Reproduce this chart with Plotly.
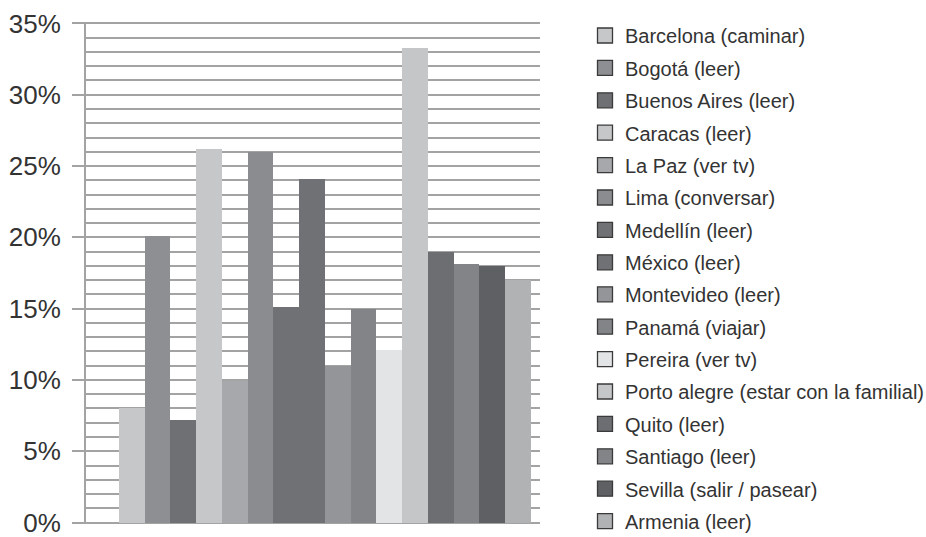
import plotly.graph_objects as go

cities = [
    "Barcelona (caminar)", "Bogotá (leer)", "Buenos Aires (leer)", "Caracas (leer)",
    "La Paz (ver tv)", "Lima (conversar)", "Medellín (leer)", "México (leer)",
    "Montevideo (leer)", "Panamá (viajar)", "Pereira (ver tv)",
    "Porto alegre (estar con la familial)", "Quito (leer)", "Santiago (leer)",
    "Sevilla (salir / pasear)", "Armenia (leer)",
]
values = [8.0, 20.1, 7.2, 26.2, 9.9, 26.0, 15.1, 24.1, 11.0, 15.0, 12.1, 33.3, 19.0, 18.1, 18.0, 17.0]
colors = [
    "#c6c7c9", "#8e8f92", "#6f7073", "#c6c7c9", "#a7a8ab", "#8b8c8f", "#707175", "#707175",
    "#949598", "#838487", "#e3e4e5", "#c5c6c8", "#6d6e72", "#838488", "#5f6063", "#b1b2b4",
]
tick_vals = [0, 5, 10, 15, 20, 25, 30, 35]
tick_text = ["0%", "5%", "10%", "15%", "20%", "25%", "30%", "35%"]

GRID = "#a3a3a3"
TEXT = "#333333"
FONT = "Liberation Sans, Arial, sans-serif"

fig = go.Figure()
fig.add_trace(go.Bar(
    x=cities, y=values, marker=dict(color=colors, line=dict(width=0)),
    showlegend=False, hoverinfo="x+y",
))
for i, (c, col) in enumerate(zip(cities, colors)):
    fig.add_trace(go.Scatter(
        x=[None], y=[None], mode="markers", name=c, legendgroup=f"g{i}",
        legend="legend" if i < 8 else "legend2",
        marker=dict(symbol="square", size=15, color=col, line=dict(color="#3a3a3a", width=1.3)),
    ))

legend_common = dict(
    xref="container", yref="container", xanchor="left", yanchor="top",
    font=dict(size=20, color=TEXT, family=FONT),
    tracegroupgap=3.4, bgcolor="rgba(0,0,0,0)",
)

fig.update_layout(
    width=926, height=537,
    margin=dict(l=86, r=386, t=22, b=13, autoexpand=False),
    paper_bgcolor="white", plot_bgcolor="white",
    bargap=0,
    font=dict(family=FONT, color=TEXT),
    legend=dict(x=585 / 926, y=1 - 16 / 537, **legend_common),
    legend2=dict(x=585 / 926, y=1 - 274.8 / 537, **legend_common),
    xaxis=dict(
        range=[-1.78, 15.85], showticklabels=False, showgrid=False,
        zeroline=False, showline=False, ticks="", fixedrange=True, automargin=False,
    ),
    yaxis=dict(
        range=[-0.1, 35.1], tickvals=tick_vals, ticktext=tick_text, automargin=False,
        showline=True, linecolor=GRID, linewidth=2,
        showgrid=True, gridcolor=GRID, gridwidth=2,
        zeroline=True, zerolinecolor=GRID, zerolinewidth=2,
        ticks="outside", ticklen=12, tickwidth=2, tickcolor=GRID,
        ticklabelstandoff=6, ticklabeloverflow="allow",
        tickfont=dict(size=26, color=TEXT, family=FONT),
        minor=dict(dtick=1, showgrid=True, gridcolor=GRID, gridwidth=2, ticks=""),
    ),
)

fig.write_html(
    "out.html",
    config={"displayModeBar": False},
    post_script="document.body.style.margin='0';",
)
